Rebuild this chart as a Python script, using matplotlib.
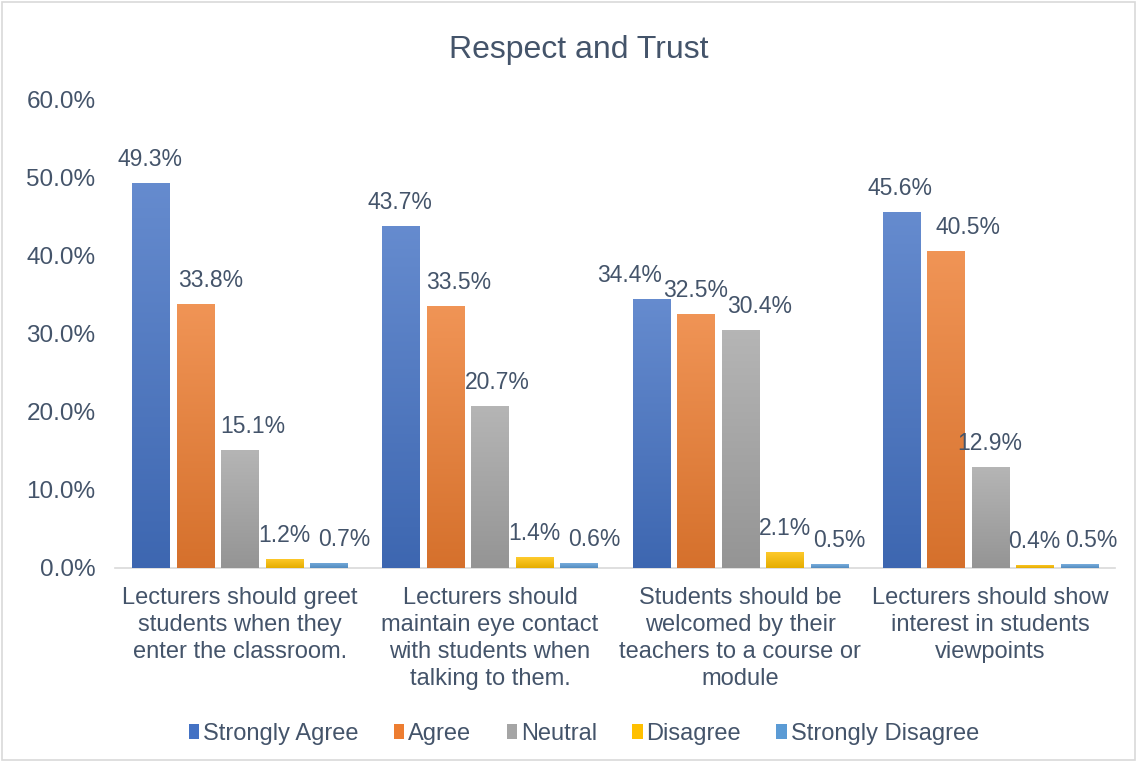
import numpy as np
import matplotlib
matplotlib.use("Agg")
import matplotlib.pyplot as plt
from matplotlib.colors import to_rgb
from matplotlib.patches import Patch, Rectangle

plt.rcParams['font.family'] = ['Liberation Sans', 'DejaVu Sans']

title = "Respect and Trust"
categories = [
    "Lecturers should greet\nstudents when they\nenter the classroom.",
    "Lecturers should\nmaintain eye contact\nwith students when\ntalking to them.",
    "Students should be\nwelcomed by their\nteachers to a course or\nmodule",
    "Lecturers should show\ninterest in students\nviewpoints",
]
series_names = ["Strongly Agree", "Agree", "Neutral", "Disagree", "Strongly Disagree"]
values = {
    "Strongly Agree":    [49.3, 43.7, 34.4, 45.6],
    "Agree":             [33.8, 33.5, 32.5, 40.5],
    "Neutral":           [15.1, 20.7, 30.4, 12.9],
    "Disagree":          [1.2, 1.4, 2.1, 0.4],
    "Strongly Disagree": [0.7, 0.6, 0.5, 0.5],
}
yticks = [0, 10, 20, 30, 40, 50, 60]

# horizontal nudges (pixels) that keep neighbouring value labels apart
label_nudge = {
    "Strongly Agree":    [-1, -1, -21, -1],
    "Agree":             [15, 13, 0, 22],
    "Neutral":           [13, 7, 20, 0],
    "Disagree":          [0, 0, 0, 0],
    "Strongly Disagree": [15, 15, 10, 12],
}

colors = ["#4472C4", "#ED7D31", "#A5A5A5", "#FFC000", "#5B9BD5"]
text_color = "#44546A"

def mix(c, other, t):
    c = np.array(to_rgb(c)); o = np.array(other)
    return tuple(c * (1 - t) + o * t)

fig = plt.figure(figsize=(11.37, 7.62), dpi=100)
ax = fig.add_axes([0.1011, 0.2546, 0.8796, 0.6154])

x = np.arange(len(categories))
pitch = 0.178
width = 0.148
n = len(series_names)
px2pt = 72 / fig.dpi

for i, name in enumerate(series_names):
    c = colors[i]
    top = mix(c, (1, 1, 1), 0.18)
    bot = mix(c, (0, 0, 0), 0.10)
    offs = (i - (n - 1) / 2) * pitch
    bars = ax.bar(x + offs, values[name], width, color=c, edgecolor='none', zorder=2)
    for j, (b, v) in enumerate(zip(bars, values[name])):
        x0 = b.get_x()
        grad = np.linspace(0, 1, 256)
        img = np.zeros((256, 1, 3))
        for k in range(3):
            img[:, 0, k] = top[k] * (1 - grad) + bot[k] * grad
        im = ax.imshow(img, extent=(x0, x0 + width, 0, v), origin='upper',
                       aspect='auto', zorder=3, interpolation='bilinear')
        im.set_clip_path(b)
        ax.annotate(f"{v:.1f}%", (x0 + width / 2, v),
                    xytext=(label_nudge[name][j] * px2pt, 17 * px2pt),
                    textcoords='offset points', ha='center', va='baseline',
                    fontsize=16.5, color=text_color)

ax.set_xlim(-0.5, len(categories) - 0.5)
ax.set_ylim(0, 60)
ax.set_yticks(yticks)
ax.set_yticklabels([f"{t:.1f}%" for t in yticks], fontsize=17.5, color=text_color)
ax.set_xticks(x)
ax.set_xticklabels(categories, fontsize=17, color=text_color, linespacing=1.29, va='top')
ax.tick_params(axis='both', length=0)
ax.tick_params(axis='y', pad=14)
ax.tick_params(axis='x', pad=14)
for s in ['top', 'right', 'left']:
    ax.spines[s].set_visible(False)
ax.spines['bottom'].set_color('#D9D9D9')
ax.spines['bottom'].set_linewidth(1.2)

fig.text(0.509, 0.934, title, ha='center', va='center', fontsize=23, color=text_color)

handles = [Patch(facecolor=colors[i], edgecolor='none') for i in range(n)]
fig.legend(handles, series_names, loc='center', bbox_to_anchor=(0.5135, 0.037),
           ncol=n, frameon=False, fontsize=17, handlelength=0.45, handleheight=0.6,
           handletextpad=0.15, columnspacing=1.5, labelcolor=text_color)

fig.add_artist(Rectangle((0.002, 0.002), 0.996, 0.996, transform=fig.transFigure,
                         fill=False, edgecolor='#D9D9D9', linewidth=1.2))

fig.savefig("out.png", dpi=100)
